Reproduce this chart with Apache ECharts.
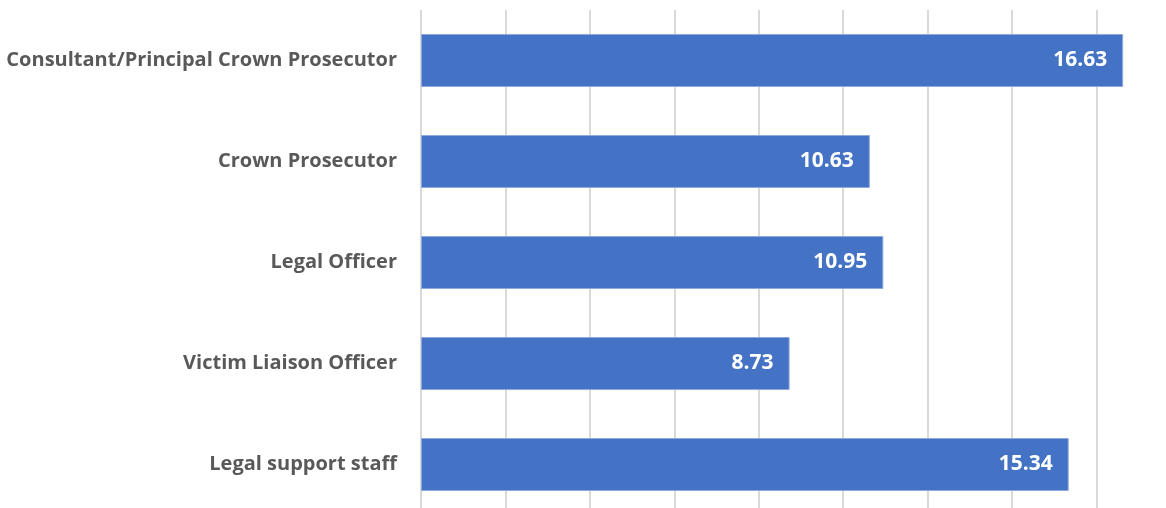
<!DOCTYPE html>
<html>
<head>
<meta charset="utf-8">
<script src="https://cdn.jsdelivr.net/npm/echarts@6/dist/echarts.min.js"></script>
<style>
  html, body { margin: 0; padding: 0; background: #fff; }
  #chart { width: 1166px; height: 508px; }
</style>
</head>
<body>
<div id="chart"></div>
<script>
// 数据
var categories = ['Consultant/Principal Crown Prosecutor', 'Crown Prosecutor', 'Legal Officer', 'Victim Liaison Officer', 'Legal support staff'];
var values = [16.63, 10.63, 10.95, 8.73, 15.34];

var myChart = echarts.init(document.getElementById('chart'));
var option = {
  animation: false,
  grid: {
    outerBoundsMode: 'none', // 允许网格超出画布
    left: 421,
    top: 10,
    width: 760, // 18 落在画布外面
    height: 505
  },
  xAxis: {
    type: 'value',
    min: 0,
    max: 18,
    interval: 2,
    axisLabel: { show: false },
    axisLine: { show: false },
    axisTick: { show: false },
    splitLine: { lineStyle: { color: '#d9d9d9', width: 2 } }
  },
  yAxis: {
    type: 'category',
    data: categories,
    inverse: true,
    axisLine: { show: false },
    axisTick: { show: false },
    axisLabel: {
      color: '#595959',
      fontFamily: 'Open Sans',
      fontWeight: 'bold',
      fontSize: 20,
      margin: 24
    }
  },
  series: [{
    type: 'bar',
    data: values,
    barWidth: 53,
    itemStyle: { color: '#4472C4', borderColor: '#8fa9dc', borderWidth: 1 },
    label: {
      show: true,
      position: 'insideRight',
      distance: 16,
      color: '#fff',
      fontFamily: 'Open Sans',
      fontWeight: 'bold',
      fontSize: 21,
      formatter: function (p) { return p.value.toFixed(2); }
    }
  }]
};
myChart.setOption(option);
</script>
</body>
</html>
